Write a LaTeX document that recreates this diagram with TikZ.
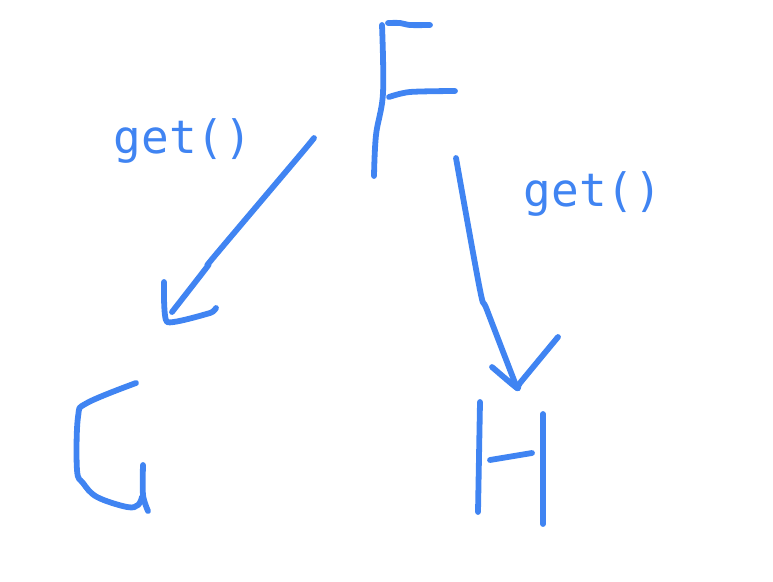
\documentclass[tikz,border=0pt]{standalone}
\usepackage{fontspec}
\setmonofont{DejaVu Sans Mono}
\usetikzlibrary{calc}
\definecolor{penblue}{RGB}{64,132,242}
\tikzset{
  pen/.style={penblue, line width=5.8pt, line cap=round, line join=round},
  calltext/.style={text=penblue, font=\ttfamily\fontsize{46}{52}\selectfont, inner sep=0pt}
}

\begin{document}
\begin{tikzpicture}[x=1pt,y=-1pt]
  \useasboundingbox (0,0) rectangle (773,581);

  % hand drawn letters
  \coordinate (F) at (380,100);
  \coordinate (G) at (110,445);
  \coordinate (H) at (510,462);

  \draw[pen,shift={(F)}] plot[smooth,tension=0.6] coordinates {(2,-75) (3,-7) (-4,35) (-6,76)};
  \draw[pen,shift={(F)}] plot[smooth] coordinates {(8,-77) (20,-77) (30,-75) (50,-75)};
  \draw[pen,shift={(F)}] plot[smooth] coordinates {(9,-3) (30,-8) (75,-9)};

  \draw[pen,shift={(G)}] plot[smooth,tension=0.6] coordinates {(26,-62) (-23,-42) (-32,-28) (-33,25) (-27,38) (-13,52) (17,62) (28,60) (32,52)};
  \draw[pen,shift={(G)}] plot[smooth] coordinates {(33,20) (33,50) (38,66)};

  \draw[pen,shift={(H)}] (-30,-60) -- (-32,50);
  \draw[pen,shift={(H)}] (-20,-2) -- (22,-9);
  \draw[pen,shift={(H)}] (33,-48) -- (33,62);

  % arrows
  \coordinate (fgTail) at (314,138);
  \coordinate (fgTip) at (172,312);
  \coordinate (fhTail) at (456,158);
  \coordinate (fhTip) at (517,388);

  \draw[pen] plot[smooth] coordinates {(fgTail) (300,155) (213,258) (207,267) (fgTip)};
  \draw[pen] plot[smooth,tension=0.3] coordinates {($(fgTip)+(-8,-30)$) ($(fgTip)+(-5,10)$) ($(fgTip)+(38,1)$) ($(fgTip)+(44,-4)$)};

  \draw[pen] plot[smooth] coordinates {(fhTail) (480,290) (487,310) (fhTip)};
  \draw[pen] plot[smooth,tension=0.3] coordinates {($(fhTip)+(-25,-21)$) (fhTip) ($(fhTip)+(3,-5)$) ($(fhTip)+(41,-51)$)};

  % labels
  \node[calltext] (getleft) at (183,141) {get()};
  \node[calltext] (getright) at (593,194) {get()};
\end{tikzpicture}
\end{document}
